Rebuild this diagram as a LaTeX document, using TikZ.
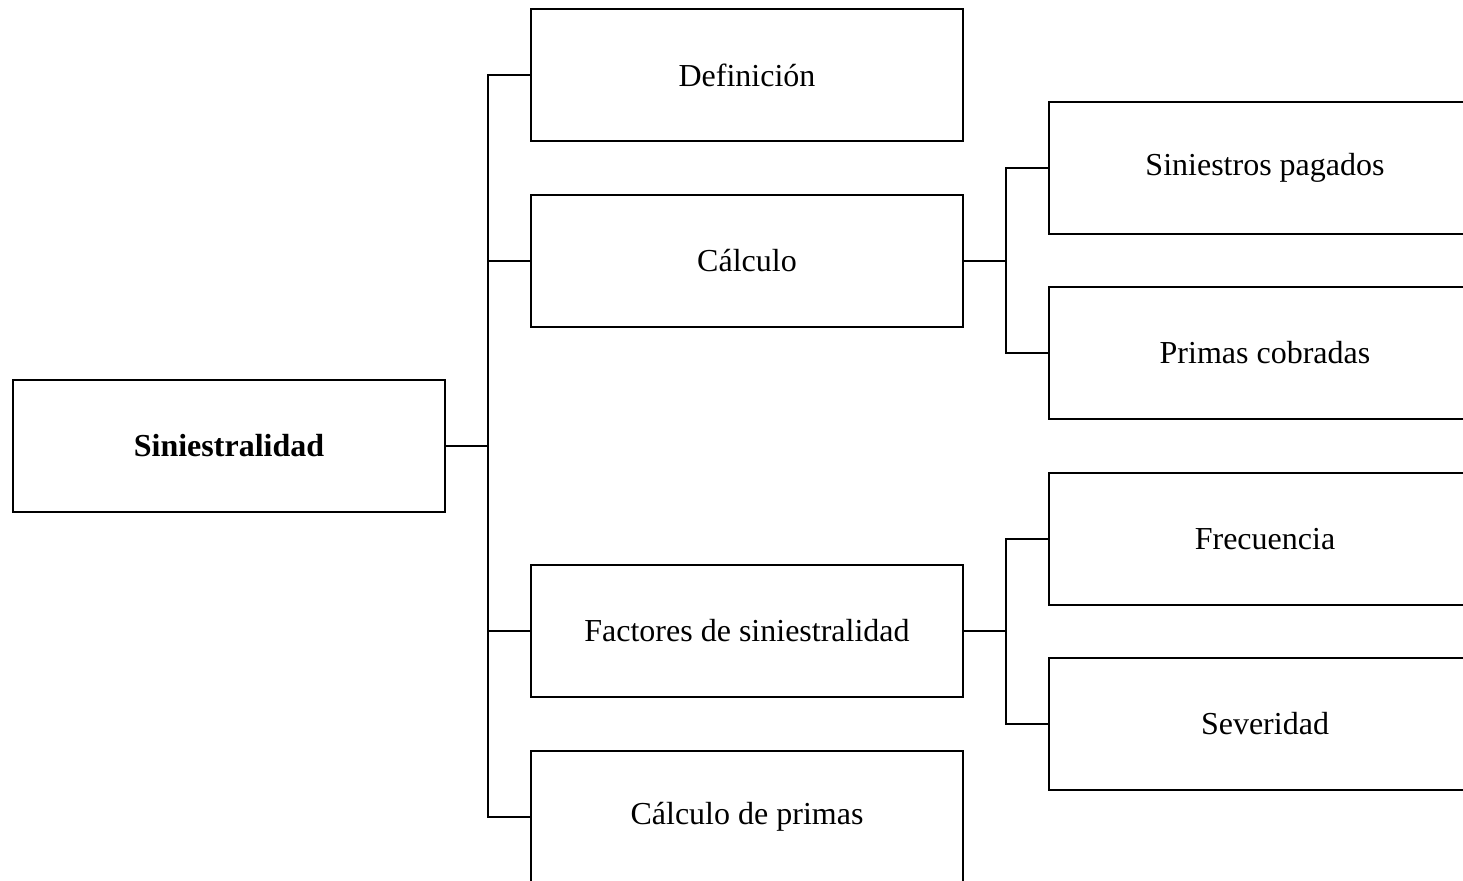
\documentclass[tikz,border=0pt]{standalone}
\usepackage{fontspec}
\setmainfont{Liberation Serif}
\begin{document}
\begin{tikzpicture}[x=0.5pt,y=-0.5pt,
  box/.style={draw=black,line width=0.95pt,fill=white,minimum width=216pt,minimum height=65.7pt,inner sep=0pt,font=\fontsize{16}{19}\selectfont},
  link/.style={draw=black,line width=0.95pt}]
\useasboundingbox (0,0) rectangle (1463,881);
\clip (0,0) rectangle (1463,881);
\fill[white] (0,0) rectangle (1463,881);

% root
\node[box,font=\fontsize{16}{19}\selectfont\bfseries] (root) at (229,446) {Siniestralidad};

% first level
\node[box] (def) at (747,75) {Definición};
\node[box] (calc) at (747,261) {Cálculo};
\node[box] (fact) at (747,631) {Factores de siniestralidad};
\node[box] (prim) at (747,817) {Cálculo de primas};

% second level
\node[box] (sin) at (1265,168) {Siniestros pagados};
\node[box] (cob) at (1265,353) {Primas cobradas};
\node[box] (frec) at (1265,539) {Frecuencia};
\node[box] (sev) at (1265,724) {Severidad};

% junctions
\coordinate (j0) at (488,446);
\coordinate (j1) at (1006,261);
\coordinate (j2) at (1006,631);

\draw[link] (root.east) -- (j0);
\draw[link] (def.west) -| (j0) |- (prim.west);
\draw[link] (j0) |- (calc.west);
\draw[link] (j0) |- (fact.west);

\draw[link] (calc.east) -- (j1);
\draw[link] (sin.west) -| (j1) |- (cob.west);

\draw[link] (fact.east) -- (j2);
\draw[link] (frec.west) -| (j2) |- (sev.west);
\end{tikzpicture}
\end{document}
